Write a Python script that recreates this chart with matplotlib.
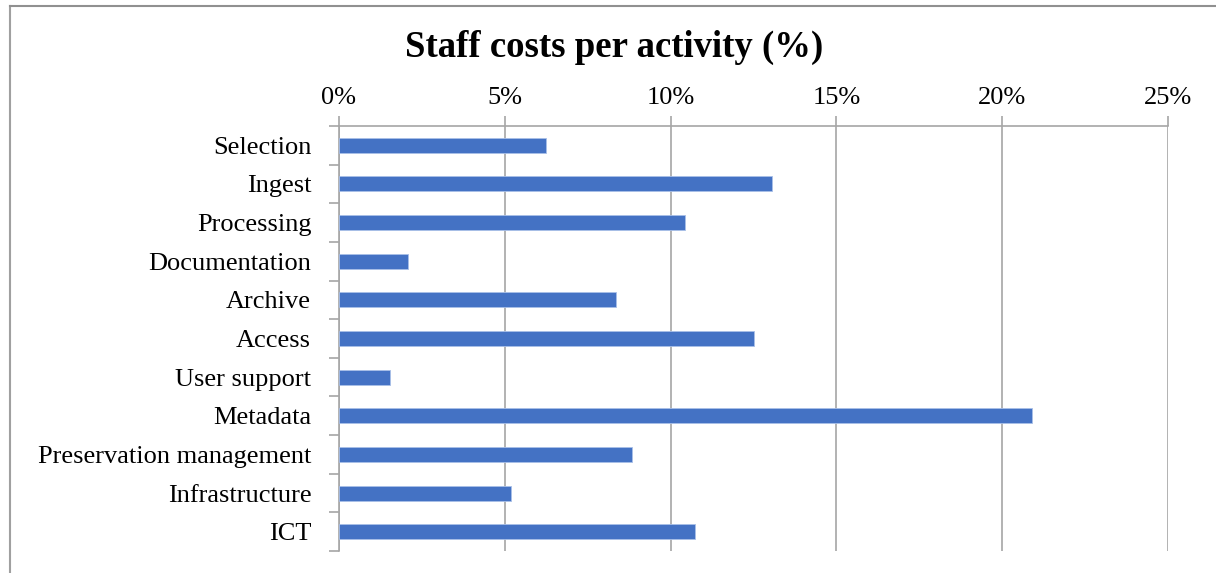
import numpy as np
import matplotlib.pyplot as plt
from matplotlib.lines import Line2D

plt.rcParams['font.family'] = ['Liberation Serif', 'DejaVu Serif']

# staff cost share per activity, in percent
activities = ['Selection', 'Ingest', 'Processing', 'Documentation', 'Archive',
              'Access', 'User support', 'Metadata', 'Preservation management',
              'Infrastructure', 'ICT']
shares = [6.24, 13.05, 10.44, 2.08, 8.34, 12.53, 1.54, 20.90, 8.84, 5.20, 10.75]
xticks = [0, 5, 10, 15, 20, 25]
xtick_labels = ['0%', '5%', '10%', '15%', '20%', '25%']

bar_color = '#4472C4'
grid_color = '#A6A6A6'

fig = plt.figure(figsize=(12.16, 5.73), dpi=100)
ax = fig.add_axes([339 / 1216, 22 / 573, 829 / 1216, 425 / 573])

y = np.arange(len(activities))
ax.barh(y, shares, height=0.39, color=bar_color, edgecolor='#A9C0E8',
        linewidth=0.6, zorder=3)

ax.set_xlim(0, 25)
ax.set_ylim(len(activities) - 0.5, -0.5)

ax.xaxis.tick_top()
ax.set_xticks(xticks)
ax.set_xticklabels(xtick_labels)
ax.tick_params(axis='x', which='major', length=7, width=1.2, color=grid_color,
               labelsize=19, pad=5)
ax.grid(axis='x', color=grid_color, linewidth=1.2, zorder=0)

ax.set_yticks(y)
ax.set_yticklabels(activities)
ax.set_yticks(np.arange(len(activities) + 1) - 0.5, minor=True)
ax.tick_params(axis='y', which='major', length=0, labelsize=19, pad=20)
ax.tick_params(axis='y', which='minor', length=7, width=1.2, color=grid_color)

for side in ['right', 'bottom']:
    ax.spines[side].set_visible(False)
for side in ['left', 'top']:
    ax.spines[side].set_color(grid_color)
    ax.spines[side].set_linewidth(1.2)

fig.text(614 / 1216, 1 - 47 / 573, 'Staff costs per activity (%)',
         ha='center', va='center', fontsize=26.5, fontweight='bold')

# chart frame
fig.add_artist(Line2D([10 / 1216, 10 / 1216], [0, 1 - 6 / 573],
                      transform=fig.transFigure, color='#A0A0A0', linewidth=1.5))
fig.add_artist(Line2D([10 / 1216, 1], [1 - 6 / 573, 1 - 6 / 573],
                      transform=fig.transFigure, color='#909090', linewidth=1.5))

fig.savefig('out.png', dpi=100)
